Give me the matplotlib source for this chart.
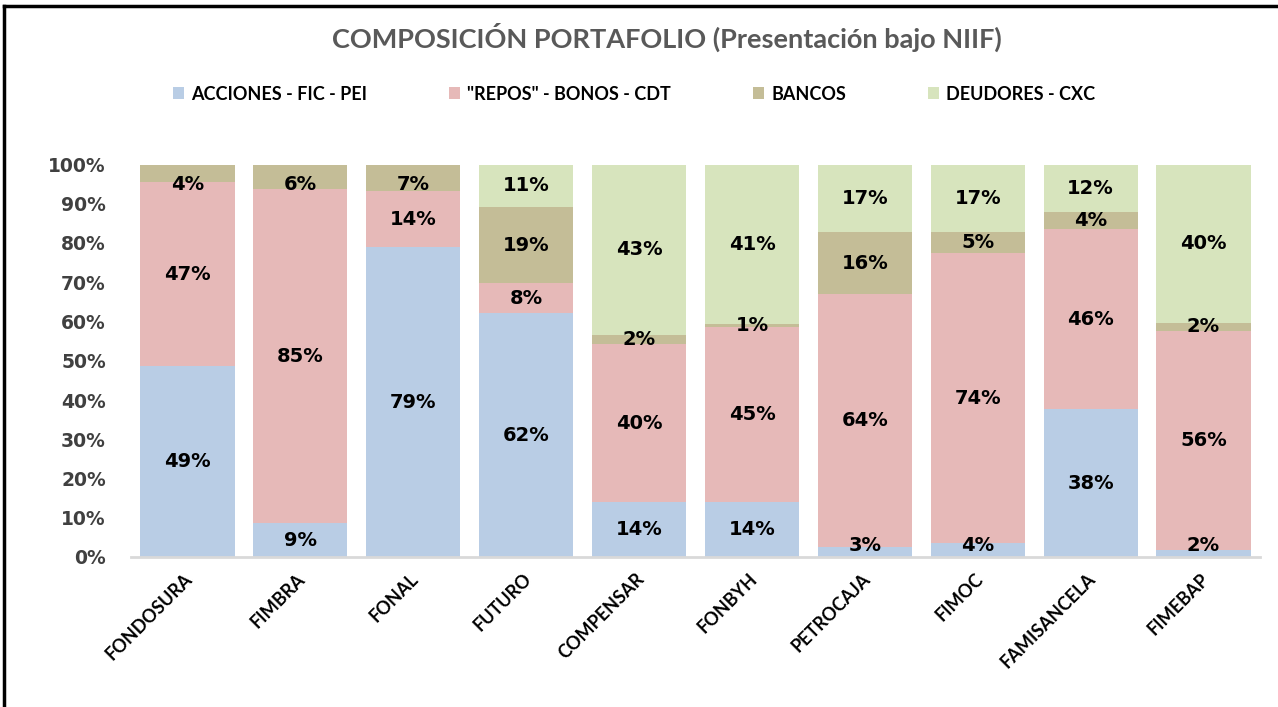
import matplotlib.pyplot as plt
import numpy as np
from matplotlib.lines import Line2D
from matplotlib.patches import Patch
from matplotlib.transforms import ScaledTranslation

# data (% of portfolio)
fondos = ["FONDOSURA", "FIMBRA", "FONAL", "FUTURO", "COMPENSAR",
          "FONBYH", "PETROCAJA", "FIMOC", "FAMISANCELA", "FIMEBAP"]
acciones = [48.6, 8.6, 78.9, 62.1, 13.9, 13.9, 2.6, 3.6, 37.6, 1.8]
repos = [47.0, 85.2, 14.3, 7.6, 40.4, 44.6, 64.4, 73.8, 46.0, 55.8]
bancos = [4.4, 6.2, 6.8, 19.4, 2.3, 0.9, 15.8, 5.4, 4.2, 2.0]
deudores = [0.0, 0.0, 0.0, 10.9, 43.4, 40.6, 17.2, 17.2, 12.2, 40.4]
series_names = ["ACCIONES - FIC - PEI", '"REPOS" - BONOS - CDT', "BANCOS", "DEUDORES - CXC"]
series_colors = ["#B9CDE5", "#E6B9B8", "#C4BD97", "#D7E4BD"]
y_ticks = [0, 10, 20, 30, 40, 50, 60, 70, 80, 90, 100]

W, H = 1278, 707
fig = plt.figure(figsize=(W / 100, H / 100), dpi=100)
ax = fig.add_axes([131 / W, 1 - 557 / H, (1260 - 131) / W, (557 - 164.5) / H])

x = np.arange(len(fondos))
bottom = np.zeros(len(fondos))
for vals, name, col in zip([acciones, repos, bancos, deudores], series_names, series_colors):
    vals = np.array(vals)
    ax.bar(x, vals, width=0.835, bottom=bottom, color=col, label=name, zorder=2)
    for xi, b, v in zip(x, bottom, vals):
        if v > 0:
            # keep labels inside the plot area like Excel does
            yl = min(max(b + v / 2, 3.0), 95.0)
            ax.text(xi, yl, f"{v:.0f}%", ha="center", va="center",
                    fontsize=14, fontweight="bold", family="DejaVu Sans", color="black", zorder=3)
    bottom += vals

ax.set_xlim(-0.5, len(fondos) - 0.5)
ax.set_ylim(0, 100)
ax.set_yticks(y_ticks)
ax.set_yticklabels([f"{t}%" for t in y_ticks], fontsize=13.5, fontweight="bold",
                   family="DejaVu Sans", color="#404040")
ax.tick_params(axis="y", length=0, pad=18)

ax.set_xticks(x)
ax.set_xticklabels(fondos, rotation=45, ha="right", va="center", rotation_mode="anchor",
                   fontsize=13, fontweight="bold", family="Lato", color="black")
ax.tick_params(axis="x", length=0, pad=14)
for lab in ax.get_xticklabels():
    lab.set_transform(lab.get_transform() + ScaledTranslation(1.7 / 72, 0, fig.dpi_scale_trans))

for s in ["top", "right", "left"]:
    ax.spines[s].set_visible(False)
ax.spines["bottom"].set_color("#D9D9D9")
ax.spines["bottom"].set_linewidth(2)
ax.spines["bottom"].set_zorder(4)

fig.text(667 / W, 1 - 37 / H, "COMPOSICIÓN PORTAFOLIO (Presentación bajo NIIF)",
         ha="center", va="center", fontsize=19.5, fontweight="bold", family="Lato", color="#595959")

handles = [Patch(facecolor=c, edgecolor="none") for c in series_colors]
fig.legend(handles, series_names, loc="center", bbox_to_anchor=(634 / W, 1 - 94 / H), ncol=4,
           frameon=False, handlelength=0.6, handleheight=0.6, handletextpad=0.4,
           columnspacing=4.55, prop={"family": "Lato", "weight": "bold", "size": 13})

# black frame on the left and top edges
fig.add_artist(Line2D([4 / W, 4 / W], [0, 1 - 6 / H], color="black", lw=2.5, transform=fig.transFigure))
fig.add_artist(Line2D([4 / W, 1], [1 - 6 / H, 1 - 6 / H], color="black", lw=2.5, transform=fig.transFigure))

fig.savefig("out.png", dpi=100, facecolor="white")
